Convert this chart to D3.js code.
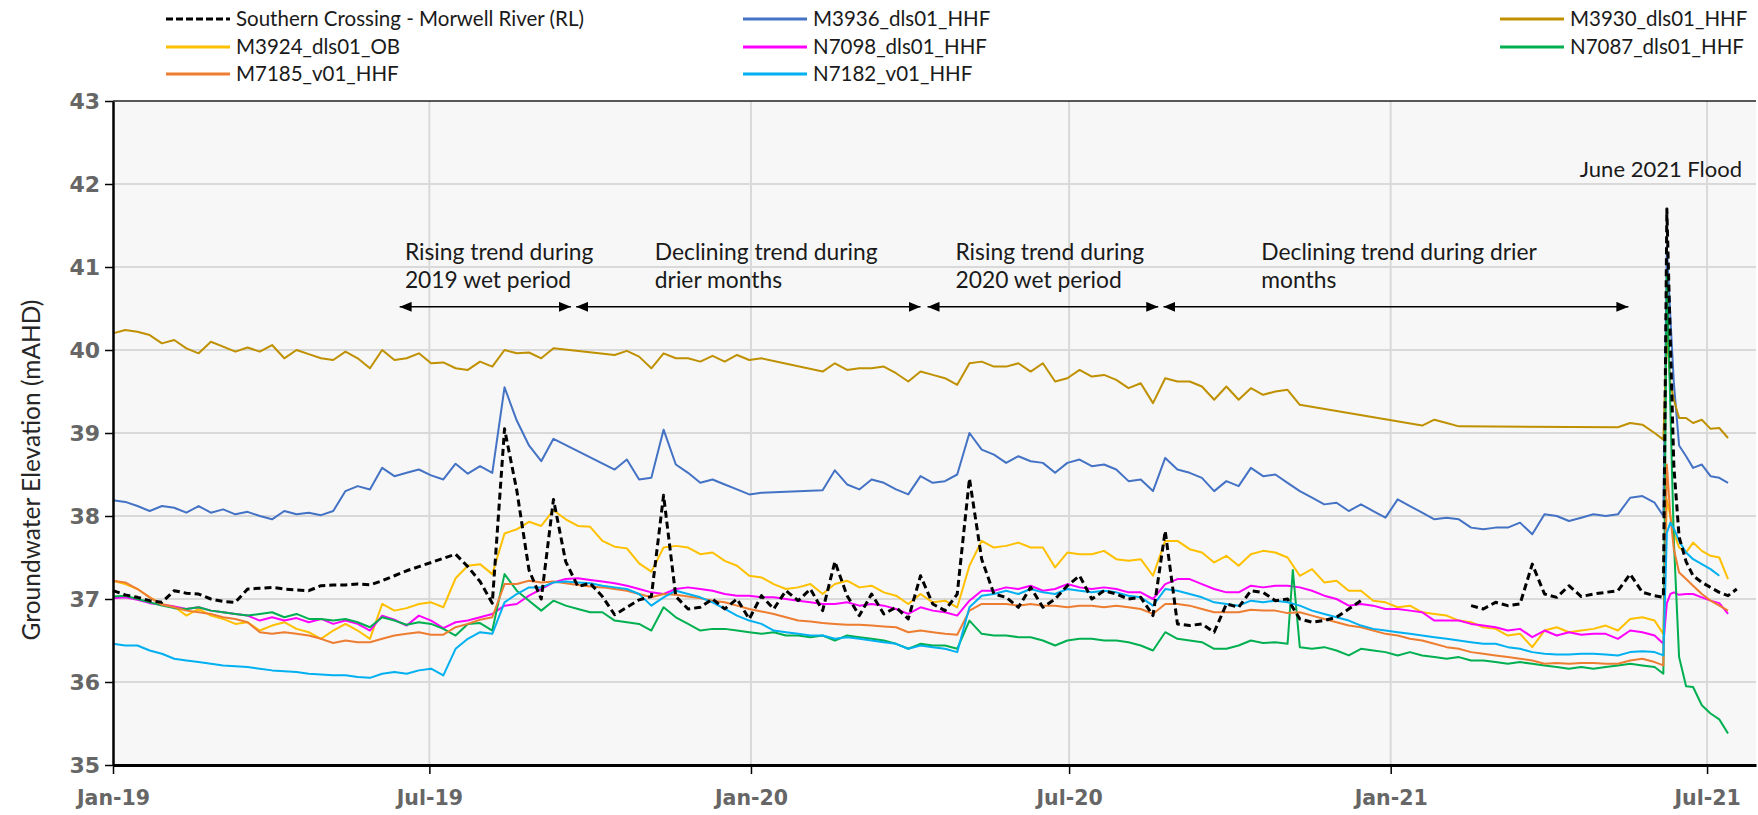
<!DOCTYPE html>
<html><head><meta charset="utf-8">
<script src="https://cdn.jsdelivr.net/npm/d3@7"></script>
<style>html,body{margin:0;padding:0;background:#fff;} svg{display:block;}</style>
</head><body>
<svg id="chart" width="1758" height="815"></svg>
<script>
// ---------------- DATA ----------------
// Day offsets from 1 Jan 2019: weekly readings, then the June 2021 flood readings, then one extra spike reading.
const baseDate = Date.UTC(2019, 0, 1);
const weeklyDays = d3.range(0, 883, 7); // 127 weekly readings (day 0 .. 882)
const extraDays = [887, 889, 891, 893, 896, 900, 904, 909, 914, 919, 924, 929, 675];

const seriesNames = ["Southern Crossing - Morwell River (RL)", "M3936_dls01_HHF", "M3930_dls01_HHF",
  "M3924_dls01_OB", "N7098_dls01_HHF", "N7087_dls01_HHF", "M7185_v01_HHF", "N7182_v01_HHF"];
const seriesColors = ["#000000", "#4472C4", "#BF9000", "#FFC000", "#FF00FF", "#00B050", "#ED7D31", "#00B0F0"];

const riverRL = [
  37.10, 37.05, 37.02, 36.98, 36.96, 37.10, 37.07, 37.06, 37.00, 36.97,
  36.96, 37.12, 37.13, 37.14, 37.12, 37.11, 37.10, 37.16, 37.17, 37.17,
  37.18, 37.17, 37.22, 37.28, 37.34, 37.39, 37.44, 37.49, 37.54, 37.39,
  37.21, 36.95, 39.05, 38.31, 37.35, 37.00, 38.20, 37.45, 37.15, 37.19,
  37.03, 36.81, 36.90, 36.99, 37.03, 38.25, 37.03, 36.88, 36.90, 37.00,
  36.88, 37.00, 36.76, 37.04, 36.88, 37.10, 36.98, 37.12, 36.86, 37.45,
  37.04, 36.80, 37.06, 36.82, 36.90, 36.76, 37.28, 36.94, 36.86, 37.06,
  38.45, 37.48, 37.06, 37.02, 36.90, 37.14, 36.90, 37.00, 37.16, 37.28,
  37.00, 37.10, 37.06, 37.00, 37.02, 36.80, 37.82, 36.70, 36.68, 36.70,
  36.60, 36.94, 36.90, 37.10, 37.08, 36.98, 37.00, 36.76, 36.72, 36.74,
  36.78, 36.88, 36.98, null, null, null, null, null, null, null,
  null, 36.92, 36.88, 36.96, 36.92, 36.94, 37.42, 37.06, 37.02, 37.16,
  37.03, 37.06, 37.08, 37.10, 37.30, 37.08, 37.04,
  37.02, 41.70, 40.10, 38.60, 37.75, 37.45, 37.28, 37.20, 37.14, 37.08, 37.04, 37.12, null];

const m3936 = [
  38.19, 38.17, 38.12, 38.06, 38.12, 38.10, 38.04, 38.12, 38.04, 38.08,
  38.02, 38.05, 38.00, 37.96, 38.06, 38.02, 38.04, 38.01, 38.06, 38.30,
  38.36, 38.32, 38.58, 38.48, 38.52, 38.56, 38.49, 38.44, 38.63, 38.51,
  38.60, 38.52, 39.55, 39.15, 38.85, 38.66, 38.93, null, null, null,
  null, 38.56, 38.68, 38.44, 38.46, 39.04, 38.62, 38.52, 38.40, 38.44,
  38.38, 38.32, 38.26, 38.28, null, null, null, null, 38.31, 38.55,
  38.38, 38.32, 38.44, 38.40, 38.32, 38.26, 38.48, 38.40, 38.42, 38.50,
  39.00, 38.80, 38.74, 38.64, 38.72, 38.66, 38.64, 38.52, 38.64, 38.68,
  38.60, 38.62, 38.56, 38.42, 38.44, 38.30, 38.70, 38.56, 38.52, 38.46,
  38.30, 38.42, 38.36, 38.58, 38.48, 38.50, 38.40, 38.30, 38.22, 38.14,
  38.16, 38.06, 38.14, 38.06, 37.98, 38.20, 38.12, 38.04, 37.96, 37.98,
  37.96, 37.86, 37.84, 37.86, 37.86, 37.92, 37.78, 38.02, 38.00, 37.94,
  37.98, 38.02, 38.00, 38.02, 38.22, 38.24, 38.16,
  38.00, 41.25, 40.40, 39.60, 38.85, 38.72, 38.58, 38.62, 38.48, 38.46, 38.40, null, null];

const m3930 = [
  40.20, 40.24, 40.22, 40.18, 40.08, 40.12, 40.02, 39.96, 40.10, 40.04,
  39.98, 40.03, 39.98, 40.06, 39.90, 40.00, 39.95, 39.90, 39.88, 39.98,
  39.90, 39.78, 40.00, 39.88, 39.90, 39.96, 39.84, 39.85, 39.78, 39.76,
  39.86, 39.80, 40.00, 39.96, 39.97, 39.90, 40.02, null, null, null,
  null, 39.94, 39.99, 39.92, 39.78, 39.96, 39.90, 39.90, 39.86, 39.93,
  39.86, 39.94, 39.88, 39.90, null, null, null, null, 39.74, 39.84,
  39.76, 39.78, 39.78, 39.80, 39.72, 39.62, 39.74, 39.70, 39.66, 39.58,
  39.84, 39.86, 39.80, 39.80, 39.84, 39.74, 39.84, 39.62, 39.66, 39.76,
  39.68, 39.70, 39.64, 39.54, 39.60, 39.36, 39.66, 39.62, 39.62, 39.56,
  39.40, 39.56, 39.40, 39.54, 39.46, 39.50, 39.52, 39.34, null, null,
  null, null, null, null, null, null, null, 39.09, 39.16, 39.12,
  39.08, null, null, null, null, null, null, null, null, null,
  null, null, null, 39.07, 39.12, 39.10, 39.00,
  38.92, 40.20, 39.60, 39.40, 39.18, 39.18, 39.12, 39.16, 39.05, 39.06, 38.94, null, null];

const m3924 = [
  37.22, 37.18, 37.12, 37.02, 36.94, 36.91, 36.80, 36.88, 36.80, 36.76,
  36.70, 36.72, 36.62, 36.68, 36.72, 36.64, 36.60, 36.52, 36.62, 36.70,
  36.62, 36.52, 36.94, 36.86, 36.89, 36.94, 36.96, 36.90, 37.25, 37.40,
  37.42, 37.30, 37.79, 37.84, 37.93, 37.88, 38.07, 37.96, 37.88, 37.87,
  37.70, 37.63, 37.61, 37.43, 37.33, 37.62, 37.64, 37.62, 37.54, 37.56,
  37.46, 37.40, 37.28, 37.26, 37.18, 37.12, 37.14, 37.18, 37.06, 37.18,
  37.22, 37.14, 37.16, 37.08, 37.04, 36.94, 37.06, 36.96, 36.98, 36.90,
  37.40, 37.70, 37.62, 37.64, 37.68, 37.62, 37.62, 37.38, 37.56, 37.54,
  37.54, 37.58, 37.48, 37.46, 37.48, 37.28, 37.70, 37.70, 37.60, 37.56,
  37.44, 37.52, 37.40, 37.54, 37.58, 37.56, 37.50, 37.28, 37.36, 37.20,
  37.22, 37.10, 37.10, 36.98, 36.96, 36.90, 36.92, 36.84, 36.82, 36.80,
  36.74, 36.72, 36.66, 36.64, 36.56, 36.58, 36.42, 36.62, 36.66, 36.60,
  36.62, 36.64, 36.68, 36.62, 36.76, 36.78, 36.74,
  36.58, 38.20, 38.00, 37.80, 37.62, 37.56, 37.68, 37.58, 37.52, 37.50, 37.24, null, null];

const n7098 = [
  37.01, 37.02, 36.99, 36.95, 36.93, 36.91, 36.88, 36.90, 36.86, 36.84,
  36.82, 36.80, 36.74, 36.78, 36.74, 36.77, 36.72, 36.76, 36.70, 36.74,
  36.70, 36.62, 36.80, 36.75, 36.68, 36.80, 36.74, 36.65, 36.72, 36.74,
  36.78, 36.82, 36.92, 36.94, 37.04, 37.12, 37.20, 37.24, 37.25, 37.23,
  37.21, 37.19, 37.16, 37.12, 37.08, 37.06, 37.12, 37.14, 37.12, 37.10,
  37.06, 37.04, 37.04, 37.02, 37.02, 37.00, 36.98, 36.96, 36.94, 36.94,
  36.96, 36.92, 36.94, 36.92, 36.88, 36.82, 36.90, 36.86, 36.84, 36.80,
  36.98, 37.10, 37.10, 37.14, 37.12, 37.16, 37.10, 37.12, 37.18, 37.14,
  37.12, 37.14, 37.12, 37.08, 37.08, 37.00, 37.18, 37.24, 37.24, 37.18,
  37.12, 37.08, 37.08, 37.16, 37.14, 37.16, 37.16, 37.14, 37.10, 37.04,
  37.00, 36.92, 36.94, 36.92, 36.88, 36.88, 36.86, 36.84, 36.74, 36.74,
  36.74, 36.70, 36.68, 36.66, 36.62, 36.64, 36.54, 36.62, 36.56, 36.60,
  36.57, 36.58, 36.58, 36.52, 36.62, 36.60, 36.56,
  36.46, 36.95, 37.06, 37.08, 37.05, 37.06, 37.06, 37.02, 36.98, 36.95, 36.82, null, null];

const n7087 = [
  37.03, 37.04, 37.00, 36.96, 36.92, 36.89, 36.88, 36.90, 36.86, 36.84,
  36.82, 36.80, 36.82, 36.84, 36.78, 36.82, 36.76, 36.76, 36.74, 36.76,
  36.72, 36.66, 36.78, 36.74, 36.69, 36.72, 36.70, 36.64, 36.56, 36.70,
  36.71, 36.62, 37.30, 37.10, 36.98, 36.86, 36.98, 36.92, 36.88, 36.84,
  36.84, 36.74, 36.72, 36.70, 36.62, 36.90, 36.78, 36.70, 36.62, 36.64,
  36.64, 36.62, 36.60, 36.58, 36.60, 36.56, 36.56, 36.54, 36.56, 36.50,
  36.56, 36.54, 36.52, 36.50, 36.46, 36.40, 36.46, 36.44, 36.44, 36.40,
  36.74, 36.58, 36.56, 36.56, 36.54, 36.54, 36.50, 36.44, 36.50, 36.52,
  36.52, 36.50, 36.50, 36.48, 36.44, 36.38, 36.60, 36.52, 36.50, 36.48,
  36.40, 36.40, 36.44, 36.50, 36.47, 36.48, 36.46, 36.42, 36.40, 36.42,
  36.38, 36.32, 36.40, 36.38, 36.36, 36.32, 36.36, 36.32, 36.30, 36.28,
  36.30, 36.26, 36.26, 36.24, 36.22, 36.24, 36.22, 36.20, 36.18, 36.16,
  36.18, 36.16, 36.18, 36.20, 36.22, 36.20, 36.18,
  36.10, 40.95, 39.30, 37.70, 36.30, 35.95, 35.94, 35.72, 35.62, 35.55, 35.38, null, 37.35];

const m7185 = [
  37.22, 37.20, 37.12, 37.02, 36.93, 36.90, 36.86, 36.84, 36.82, 36.78,
  36.76, 36.72, 36.60, 36.58, 36.60, 36.58, 36.56, 36.52, 36.47, 36.50,
  36.48, 36.48, 36.52, 36.56, 36.58, 36.60, 36.57, 36.57, 36.66, 36.70,
  36.75, 36.78, 37.18, 37.18, 37.22, 37.20, 37.21, 37.19, 37.17, 37.15,
  37.14, 37.12, 37.10, 37.06, 37.02, 37.06, 37.05, 37.03, 37.01, 36.98,
  36.96, 36.92, 36.88, 36.85, 36.82, 36.78, 36.74, 36.73, 36.71, 36.70,
  36.69, 36.69, 36.68, 36.67, 36.66, 36.60, 36.62, 36.60, 36.58, 36.57,
  36.86, 36.94, 36.94, 36.94, 36.92, 36.94, 36.92, 36.92, 36.90, 36.92,
  36.92, 36.90, 36.92, 36.90, 36.88, 36.82, 36.94, 36.94, 36.92, 36.88,
  36.84, 36.84, 36.84, 36.87, 36.86, 36.86, 36.83, 36.84, 36.80, 36.76,
  36.72, 36.68, 36.66, 36.62, 36.58, 36.56, 36.52, 36.50, 36.46, 36.42,
  36.40, 36.36, 36.34, 36.32, 36.30, 36.28, 36.26, 36.22, 36.23, 36.22,
  36.23, 36.23, 36.22, 36.22, 36.26, 36.28, 36.24,
  36.20, 38.62, 38.00, 37.60, 37.32, 37.24, 37.16, 37.06, 36.98, 36.92, 36.86, null, null];

const n7182 = [
  36.46, 36.44, 36.44, 36.38, 36.34, 36.28, 36.26, 36.24, 36.22, 36.20,
  36.19, 36.18, 36.16, 36.14, 36.13, 36.12, 36.10, 36.09, 36.08, 36.08,
  36.06, 36.05, 36.10, 36.12, 36.10, 36.14, 36.16, 36.08, 36.40, 36.52,
  36.60, 36.58, 36.96, 37.06, 37.14, 37.14, 37.20, 37.21, 37.20, 37.19,
  37.16, 37.14, 37.12, 37.06, 36.92, 37.02, 37.10, 37.06, 37.02, 36.96,
  36.88, 36.80, 36.74, 36.70, 36.62, 36.60, 36.58, 36.56, 36.56, 36.52,
  36.54, 36.52, 36.50, 36.48, 36.46, 36.40, 36.44, 36.42, 36.40, 36.36,
  36.90, 37.04, 37.06, 37.10, 37.06, 37.12, 37.08, 37.06, 37.12, 37.10,
  37.08, 37.10, 37.08, 37.04, 37.02, 36.92, 37.12, 37.10, 37.06, 37.02,
  36.96, 36.94, 36.92, 36.98, 36.96, 36.98, 36.96, 36.92, 36.86, 36.82,
  36.78, 36.74, 36.68, 36.64, 36.62, 36.60, 36.58, 36.56, 36.54, 36.52,
  36.50, 36.48, 36.46, 36.46, 36.42, 36.40, 36.36, 36.34, 36.33, 36.33,
  36.34, 36.34, 36.33, 36.32, 36.36, 36.37, 36.36,
  36.32, 37.80, 37.92, 37.85, 37.70, 37.56, 37.48, 37.42, 37.36, 37.28, null, null, null];

const yTicks = [35, 36, 37, 38, 39, 40, 41, 42, 43];
const xTickDates = ["2019-01-01", "2019-07-01", "2020-01-01", "2020-07-01", "2021-01-01", "2021-07-01"];
const xTickLabels = ["Jan-19", "Jul-19", "Jan-20", "Jul-20", "Jan-21", "Jul-21"];
const yTitle = "Groundwater Elevation (mAHD)";

// annotation texts, positioned in data units (day offset, mAHD)
const noteTexts = [
  ["Rising trend during", "2019 wet period"],
  ["Declining trend during", "drier months"],
  ["Rising trend during", "2020 wet period"],
  ["Declining trend during drier", "months"]];
const noteDays = [167.6, 310, 482.3, 657.9];
const noteLevels = [41.08, 40.75];
const arrowFrom = [164.2, 265.4, 466.2, 601.3];
const arrowTo = [262.6, 462.8, 598.4, 867.3];
const arrowLevel = 40.52;
const floodLabel = "June 2021 Flood";
const floodDay = 932, floodLevel = 42.09;

// ---------------- CHART ----------------
(function () {
const svg = d3.select("#chart");
const W = 1758, H = 815;
const pLeft = 113, pRight = 1756, pTop = 101, pBottom = 765;
const dayToDate = d => d3.utcDay.offset(new Date(baseDate), d);
const x = d3.scaleUtc().domain([new Date(baseDate), new Date(Date.UTC(2021, 6, 29))]).range([pLeft, pRight]);
const y = d3.scaleLinear().domain([35, 43]).range([pBottom, pTop]);

svg.append("rect").attr("x", 0).attr("y", 0).attr("width", W).attr("height", H).attr("fill", "#fff");
svg.append("rect").attr("x", pLeft).attr("y", pTop).attr("width", pRight - pLeft).attr("height", pBottom - pTop).attr("fill", "#f7f7f7");

// gridlines
const tickDates = xTickDates.map(s => new Date(s + "T00:00:00Z"));
svg.append("g").selectAll("line").data(yTicks.filter(v => v > 35 && v < 43)).join("line")
  .attr("x1", pLeft).attr("x2", pRight).attr("y1", d => y(d)).attr("y2", d => y(d))
  .attr("stroke", "#d9d9d9").attr("stroke-width", 2);
svg.append("g").selectAll("line").data(tickDates.slice(1)).join("line")
  .attr("x1", d => x(d)).attr("x2", d => x(d)).attr("y1", pTop).attr("y2", pBottom)
  .attr("stroke", "#d9d9d9").attr("stroke-width", 2);
svg.append("line").attr("x1", pLeft).attr("x2", pRight).attr("y1", y(43)).attr("y2", y(43))
  .attr("stroke", "#222").attr("stroke-width", 1.5);

// series
const allDays = weeklyDays.concat(extraDays);
const seriesValues = [riverRL, m3936, m3930, m3924, n7098, n7087, m7185, n7182];
// the river gauge record has a real break (no line drawn) where readings are missing for weeks;
// the bore loggers are joined across missing readings.
const maxJoinDays = [30, Infinity, Infinity, Infinity, Infinity, Infinity, Infinity, Infinity];
const series = seriesNames.map((name, k) => {
  const pts = allDays.map((d, i) => ({ day: d, date: dayToDate(d), v: seriesValues[k][i] }))
    .filter(p => p.v !== null && p.v !== undefined)
    .sort((a, b) => a.day - b.day);
  const withGaps = [];
  pts.forEach((p, i) => {
    if (i > 0 && p.day - pts[i - 1].day > maxJoinDays[k]) withGaps.push(null);
    withGaps.push(p);
  });
  return { name, color: seriesColors[k], dashed: k === 0, pts: withGaps };
});
const line = d3.line().defined(p => p !== null).x(p => x(p.date)).y(p => y(p.v));
const drawOrder = [1, 2, 3, 4, 5, 6, 7, 0];
const gLines = svg.append("g");
drawOrder.forEach(k => {
  const s = series[k];
  gLines.append("path").datum(s.pts).attr("d", line).attr("fill", "none")
    .attr("stroke", s.color).attr("stroke-width", s.dashed ? 3 : 2)
    .attr("stroke-dasharray", s.dashed ? "7,4" : null)
    .attr("stroke-linejoin", "round");
});

// axes
const yAxis = d3.axisLeft(y).tickValues(yTicks).tickSize(8).tickSizeOuter(0).tickPadding(5).tickFormat(d3.format("d"));
const gy = svg.append("g").attr("transform", `translate(${pLeft},0)`).call(yAxis);
gy.select(".domain").attr("stroke", "#000").attr("stroke-width", 2.5);
gy.selectAll(".tick line").attr("stroke", "#000").attr("stroke-width", 1.5);
gy.selectAll(".tick text").attr("font-family", "'DejaVu Sans', Verdana, sans-serif").attr("font-weight", "bold")
  .attr("font-size", 22).attr("fill", "#666");

const xAxis = d3.axisBottom(x).tickValues(tickDates).tickSize(9).tickSizeOuter(0).tickPadding(16)
  .tickFormat((d, i) => xTickLabels[i]);
const gx = svg.append("g").attr("transform", `translate(0,${pBottom})`).call(xAxis);
gx.select(".domain").attr("stroke", "#000").attr("stroke-width", 3);
gx.selectAll(".tick line").attr("stroke", "#000").attr("stroke-width", 1.5);
gx.selectAll(".tick text").attr("font-family", "'DejaVu Sans', Verdana, sans-serif").attr("font-weight", "bold")
  .attr("font-size", 20.5).attr("fill", "#666");

// y title
svg.append("text").attr("transform", "translate(40,470) rotate(-90)").attr("text-anchor", "middle")
  .attr("font-family", "Lato, 'Open Sans', sans-serif").attr("font-size", 24.5).attr("fill", "#262626").text(yTitle);

// annotations
const defs = svg.append("defs");
defs.append("marker").attr("id", "ah").attr("viewBox", "0 0 12 10").attr("refX", 12).attr("refY", 5)
  .attr("markerWidth", 12).attr("markerHeight", 10).attr("markerUnits", "userSpaceOnUse").attr("orient", "auto-start-reverse")
  .append("path").attr("d", "M0,0 L12,5 L0,10 Z").attr("fill", "#000");
const gNotes = svg.append("g").attr("font-family", "Lato, 'Open Sans', sans-serif").attr("font-size", 22.8).attr("fill", "#1a1a1a");
noteTexts.forEach((lines, i) => {
  lines.forEach((t, j) => {
    gNotes.append("text").attr("x", x(dayToDate(noteDays[i]))).attr("y", y(noteLevels[j])).text(t);
  });
  gNotes.append("line")
    .attr("x1", x(dayToDate(arrowFrom[i]))).attr("x2", x(dayToDate(arrowTo[i])))
    .attr("y1", y(arrowLevel)).attr("y2", y(arrowLevel))
    .attr("stroke", "#000").attr("stroke-width", 1.5)
    .attr("marker-start", "url(#ah)").attr("marker-end", "url(#ah)");
});
gNotes.append("text").attr("x", x(dayToDate(floodDay))).attr("y", y(floodLevel)).attr("text-anchor", "end")
  .attr("font-size", 22).text(floodLabel);

// legend
const legendCols = [166, 743, 1500];
const legendRows = [19, 47, 74];
const gLeg = svg.append("g").attr("font-family", "Lato, 'Open Sans', sans-serif").attr("font-size", 20.5).attr("fill", "#1a1a1a");
series.forEach((s, k) => {
  const cx = legendCols[k % 3], cy = legendRows[Math.floor(k / 3)];
  gLeg.append("line").attr("x1", cx).attr("x2", cx + 64).attr("y1", cy).attr("y2", cy)
    .attr("stroke", s.color).attr("stroke-width", 3).attr("stroke-dasharray", s.dashed ? "7,3" : null);
  gLeg.append("text").attr("x", cx + 70).attr("y", cy).attr("dy", "0.35em").text(s.name);
});
})();
</script>
</body></html>
